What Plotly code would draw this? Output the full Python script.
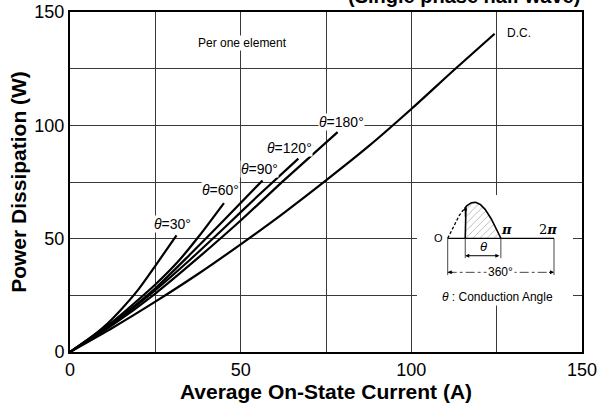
import numpy as np
import plotly.graph_objects as go

# Average on-state current (A) vs. power dissipation (W), one element
dc_i = [0, 12.5, 25, 37.5, 50, 62.5, 75, 87.5, 100, 112.5, 124.4]
dc_p = [0, 10.7, 22.2, 34.4, 47.5, 61.2, 75.7, 90.8, 107.2, 124.4, 140.4]

deg180_i = [0, 12.5, 25, 37.5, 50, 62.5, 78.4]
deg180_p = [0, 12.0, 25.8, 41.5, 58.0, 75.5, 97.0]

deg120_i = [0, 12.5, 25, 35, 45, 55, 66.9]
deg120_p = [0, 12.6, 27.3, 40.5, 54.5, 68.8, 85.3]

deg90_i = [0, 12.5, 25, 35, 45, 56.4]
deg90_p = [0, 12.9, 28.1, 42.8, 58.0, 75.7]

deg60_i = [0, 12.5, 25, 32, 38, 45.1]
deg60_p = [0, 13.4, 29.8, 40.5, 51.5, 65.7]

deg30_i = [0, 5, 10, 15, 20, 25, 31.2]
deg30_p = [0, 5.2, 11.2, 18.8, 27.5, 38.0, 51.5]

curves = [
    (dc_i, dc_p), (deg180_i, deg180_p), (deg120_i, deg120_p),
    (deg90_i, deg90_p), (deg60_i, deg60_p), (deg30_i, deg30_p),
]

# curve labels: (I, P, text)
curve_labels = [
    (29.9, 56.5, "<i>θ</i>=30°"),
    (44.2, 71.5, "<i>θ</i>=60°"),
    (55.4, 80.7, "<i>θ</i>=90°"),
    (64.2, 90.1, "<i>θ</i>=120°"),
    (79.5, 101.6, "<i>θ</i>=180°"),
]

tick_vals = [0, 25, 50, 75, 100, 125, 150]
tick_text = ["0", "", "50", "", "100", "", "150"]

FONT = "Liberation Sans, Arial, Helvetica, sans-serif"

fig = go.Figure()
for xs, ys in curves:
    fig.add_trace(go.Scatter(
        x=xs, y=ys, mode="lines",
        line=dict(color="black", width=2.2, shape="spline", smoothing=0.6),
        hoverinfo="skip", showlegend=False))

# ---- inset: conduction-angle sketch (x in units of pi, y in amplitude) ----
alpha = 0.33
lead = np.linspace(0, alpha, 20)
cond = np.linspace(alpha, 1, 50)
sx = dict(xaxis="x2", yaxis="y2", hoverinfo="skip", showlegend=False)

fig.add_trace(go.Scatter(
    x=np.r_[alpha, cond, 1, alpha], y=np.r_[0, np.sin(np.pi * cond), 0, 0],
    mode="lines", fill="toself", line=dict(width=0, color="black"),
    fillcolor="white",
    fillpattern=dict(shape="/", fgcolor="#222", bgcolor="white", size=5, solidity=0.12),
    **sx))
fig.add_trace(go.Scatter(x=lead, y=np.sin(np.pi * lead), mode="lines",
                         line=dict(color="black", width=1.3, dash="3px,2px"), **sx))
fig.add_trace(go.Scatter(x=np.r_[alpha, alpha, cond], y=np.r_[0, np.sin(np.pi * alpha), np.sin(np.pi * cond)],
                         mode="lines", line=dict(color="black", width=1.6), **sx))
fig.add_trace(go.Scatter(x=[0, 2], y=[0, 0], mode="lines",
                         line=dict(color="black", width=1.4), **sx))
# dimension guide lines
for gx, gy in [([alpha, alpha], [0, -0.55]), ([1, 1], [0, -0.55]),
               ([0, 0], [0, -1.02]), ([2, 2], [0, -1.02])]:
    fig.add_trace(go.Scatter(x=gx, y=gy, mode="lines",
                             line=dict(color="#333", width=0.9), **sx))
fig.add_trace(go.Scatter(x=[0, 2], y=[-0.944, -0.944], mode="lines",
                         line=dict(color="#333", width=0.9, dash="dashdot"), **sx))

annotations = []
for x, y, t in curve_labels:
    annotations.append(dict(x=x, y=y, xref="x", yref="y", text=t, showarrow=False,
                            font=dict(family=FONT, size=14, color="black"),
                            bgcolor="white", borderpad=0))
annotations += [
    dict(x=127.5, y=140.7, xref="x", yref="y", text="D.C.", xanchor="left", showarrow=False,
         font=dict(family=FONT, size=12, color="black")),
    dict(x=50.6, y=136.3, xref="x", yref="y", text="Per one element", showarrow=False,
         font=dict(family=FONT, size=12, color="black"), bgcolor="white", borderpad=0),
    dict(x=1, y=1.009, xref="paper", yref="paper", xanchor="right", yanchor="bottom",
         text="<b>(Single phase half wave)</b>", showarrow=False,
         font=dict(family=FONT, size=20, color="black")),
    # inset texts
    dict(x=-0.06, y=0.02, xref="x2", yref="y2", text="O", xanchor="right", showarrow=False,
         font=dict(family=FONT, size=11, color="black")),
    dict(x=1.11, y=0.25, xref="x2", yref="y2", text="<b><i>π</i></b>", showarrow=False,
         font=dict(family="DejaVu Serif, serif", size=13, color="black")),
    dict(x=1.89, y=0.25, xref="x2", yref="y2", text="2<b><i>π</i></b>", showarrow=False,
         font=dict(family="DejaVu Serif, serif", size=13, color="black")),
    dict(x=(alpha + 1) / 2, y=-0.23, xref="x2", yref="y2", text="<i>θ</i>", showarrow=False,
         font=dict(family=FONT, size=13, color="black")),
    dict(x=1.0, y=-0.944, xref="x2", yref="y2", text="360°", showarrow=False,
         font=dict(family=FONT, size=12, color="black"), bgcolor="white", borderpad=1),
    dict(x=0.937, y=-1.62, xref="x2", yref="y2", text="<i>θ</i> : Conduction Angle",
         showarrow=False, font=dict(family=FONT, size=12, color="black"),
         bgcolor="white", borderpad=1),
]
# arrowheads for the dimension lines
arrow = dict(xref="x2", yref="y2", axref="x2", ayref="y2", text="", showarrow=True,
             arrowhead=2, arrowsize=0.8, arrowwidth=1, arrowcolor="black")
annotations += [
    dict(arrow, x=alpha, y=-0.483, ax=1, ay=-0.483, arrowside="end+start"),
    dict(arrow, x=0, y=-0.944, ax=0.12, ay=-0.944),
    dict(arrow, x=2, y=-0.944, ax=1.88, ay=-0.944),
    dict(arrow, x=alpha, y=float(np.sin(np.pi * alpha)) + 0.02, ax=alpha,
         ay=float(np.sin(np.pi * alpha)) - 0.3),
]

axis_common = dict(
    range=[0, 150], tickvals=tick_vals, ticktext=tick_text,
    showgrid=True, gridcolor="#3a3a3a", gridwidth=0.8,
    showline=True, linecolor="black", linewidth=2, mirror=True,
    ticks="", zeroline=False, automargin=False,
    tickfont=dict(family=FONT, size=18, color="black"),
)

fig.update_layout(
    width=600, height=407,
    margin=dict(l=70, r=18, t=12, b=55),
    paper_bgcolor="white", plot_bgcolor="white",
    xaxis=dict(axis_common, domain=[0, 1],
               title=dict(text="<b>Average On-State Current (A)</b>", standoff=0,
                          font=dict(family=FONT, size=21, color="black"))),
    yaxis=dict(axis_common, domain=[0, 1],
               title=dict(text="<b>Power Dissipation (W)</b>", standoff=2,
                          font=dict(family=FONT, size=21, color="black"))),
    # the inset subplot's white background masks the grid behind the sketch
    xaxis2=dict(domain=[0.6777, 0.9824], range=[-0.578, 2.357], visible=False,
                anchor="y2", fixedrange=True),
    yaxis2=dict(domain=[0.138, 0.4618], range=[-1.853, 1.203], visible=False,
                anchor="x2", fixedrange=True),
    annotations=annotations,
)

fig.write_html("out.html")
